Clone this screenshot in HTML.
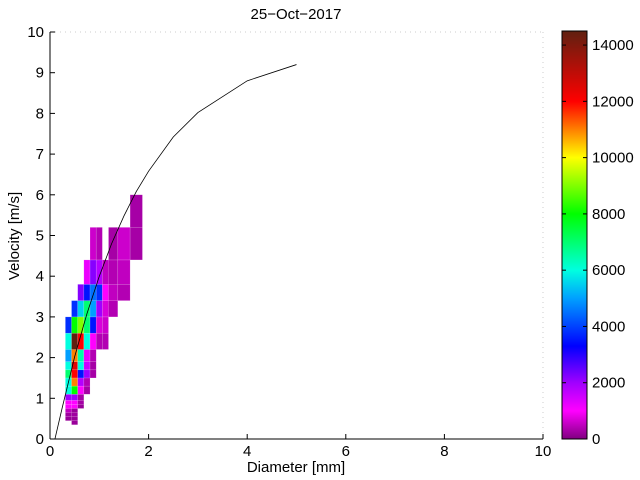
<!DOCTYPE html>
<html><head><meta charset="utf-8"><style>
body{margin:0;background:#fff;}
svg{display:block;font-family:"Liberation Sans",sans-serif;}
</style></head><body>
<svg id="chart" width="640" height="480" viewBox="0 0 640 480" xmlns="http://www.w3.org/2000/svg">
<text x="296" y="19" font-size="15" text-anchor="middle">25−Oct−2017</text>
<g id="cells"></g>
<g id="curve"></g>
<g id="axes"></g>
<g id="cbar"></g>
<text x="296" y="472" font-size="15" text-anchor="middle">Diameter [mm]</text>
<text x="19" y="236" font-size="15" text-anchor="middle" transform="rotate(-90 19 236)">Velocity [m/s]</text>
</svg>
<script>
const dEdges=[0.312,0.437,0.562,0.687,0.812,0.937,1.062,1.187,1.375,1.625,1.875];
const vEdges=[0.35,0.45,0.55,0.65,0.75,0.85,0.95,1.1,1.3,1.5,1.7,1.9,2.2,2.6,3.0,3.4,3.8,4.4,5.2,6.0];
const counts=[
[0,200,0,0,0,0,0,0,0,0],
[200,200,0,0,0,0,0,0,0,0],
[250,250,0,0,0,0,0,0,0,0],
[500,200,0,0,0,0,0,0,0,0],
[1000,1000,200,0,0,0,0,0,0,0],
[1000,1000,300,0,0,0,0,0,0,0],
[2000,2000,300,0,0,0,0,0,0,0],
[6000,8000,1000,300,0,0,0,0,0,0],
[6000,11000,1800,400,0,0,0,0,0,0],
[7000,12000,3500,2000,300,0,0,0,0,0],
[6000,12500,6000,1500,300,0,0,0,0,0],
[5000,11000,6500,1200,400,0,0,0,0,0],
[6000,14500,12000,6000,1000,400,400,0,0,0],
[3800,8000,9000,7000,3500,700,600,0,0,0],
[0,3800,5500,7000,5000,2000,700,400,0,0],
[0,0,2200,3500,4500,3800,1000,500,400,0],
[0,0,0,1200,2200,1800,500,400,500,0],
[0,0,0,0,600,400,0,300,600,300],
[0,0,0,0,0,0,0,0,0,300]
];
const curveD=[0.1,0.25,0.5,0.75,1,1.25,1.5,1.75,2,2.5,3,4,5];
const curveV=[0.0,0.78,2.02,3.08,4.0,4.8,5.48,6.08,6.58,7.42,8.02,8.8,9.2];
const xTicks=[0,2,4,6,8,10];
const yTicks=[0,1,2,3,4,5,6,7,8,9,10];
const cbTicks=[0,2000,4000,6000,8000,10000,12000,14000];
const cmapVals=[0,1000,2000,3300,5000,6000,8000,10000,12000,14500];
const cmapCols=[[128,0,128],[255,0,255],[160,0,255],[0,0,255],[0,160,255],[0,255,224],[0,255,0],[255,255,0],[255,0,0],[96,32,16]];
const cmax=14500;
const NS="http://www.w3.org/2000/svg";
const X0=50,X1=543,Y0=439,Y1=32;
const xs=d=>X0+(d/10)*(X1-X0);
const ys=v=>Y0-(v/10)*(Y0-Y1);
function col(v){
  let i=0;while(i<cmapVals.length-2&&v>cmapVals[i+1])i++;
  const t=Math.max(0,Math.min(1,(v-cmapVals[i])/(cmapVals[i+1]-cmapVals[i])));
  const a=cmapCols[i],b=cmapCols[i+1];
  return "rgb("+a.map((c,k)=>Math.round(c+(b[k]-c)*t)).join(",")+")";
}
function mk(tag,attrs,parent){const e=document.createElementNS(NS,tag);for(const k in attrs)e.setAttribute(k,attrs[k]);parent.appendChild(e);return e;}
const cells=document.getElementById('cells');
counts.forEach((row,r)=>row.forEach((val,c)=>{
  if(!val)return;
  const x=xs(dEdges[c]),x2=xs(dEdges[c+1]),y=ys(vEdges[r+1]),y2=ys(vEdges[r]);
  const e=mk('rect',{x:x,y:y,width:x2-x,height:y2-y,fill:col(val),stroke:"rgba(255,255,255,0.25)","stroke-width":0.5},cells);
  
  
}));
const curve=document.getElementById('curve');
const pl=mk('polyline',{points:curveD.map((d,i)=>xs(d)+","+ys(curveV[i])).join(" "),fill:"none",stroke:"#000","stroke-width":0.8},curve);


const axes=document.getElementById('axes');
mk('line',{x1:X0,y1:Y1,x2:X0,y2:Y0,stroke:"#000"},axes);
mk('line',{x1:X0,y1:Y0,x2:X1,y2:Y0,stroke:"#000"},axes);
mk('line',{x1:X0,y1:Y1,x2:X1,y2:Y1,stroke:"#ccc","stroke-dasharray":"1 4"},axes);
mk('line',{x1:X1,y1:Y1,x2:X1,y2:Y0,stroke:"#ccc","stroke-dasharray":"1 4"},axes);
xTicks.forEach(t=>{
  mk('line',{x1:xs(t),y1:Y0,x2:xs(t),y2:Y0-5,stroke:"#000"},axes);
  const tx=mk('text',{x:xs(t),y:Y0+17,"font-size":15,"text-anchor":"middle"},axes);
  tx.textContent=t;
  
  
});
yTicks.forEach(t=>{
  mk('line',{x1:X0,y1:ys(t),x2:X0+5,y2:ys(t),stroke:"#000"},axes);
  const tx=mk('text',{x:X0-6,y:ys(t)+5,"font-size":15,"text-anchor":"end"},axes);
  tx.textContent=t;
  
  
});
const cb=document.getElementById('cbar');
const CX0=562,CX1=587,CY0=439,CY1=31;
const cy=v=>CY0-(v/cmax)*(CY0-CY1);
for(let y=CY1;y<CY0;y++){
  const v=(CY0-y-0.5)/(CY0-CY1)*cmax;
  mk('rect',{x:CX0,y:y,width:CX1-CX0,height:1.2,fill:col(v)},cb);
}
mk('rect',{x:CX0,y:CY1,width:CX1-CX0,height:CY0-CY1,fill:"none",stroke:"#000"},cb);
cbTicks.forEach(t=>{
  mk('line',{x1:CX0,y1:cy(t),x2:CX0+4,y2:cy(t),stroke:"#000"},cb);
  mk('line',{x1:CX1,y1:cy(t),x2:CX1-4,y2:cy(t),stroke:"#000"},cb);
  const tx=mk('text',{x:CX1+5,y:cy(t)+5,"font-size":15},cb);
  tx.textContent=t;
  
  
});
</script>
</body></html>
